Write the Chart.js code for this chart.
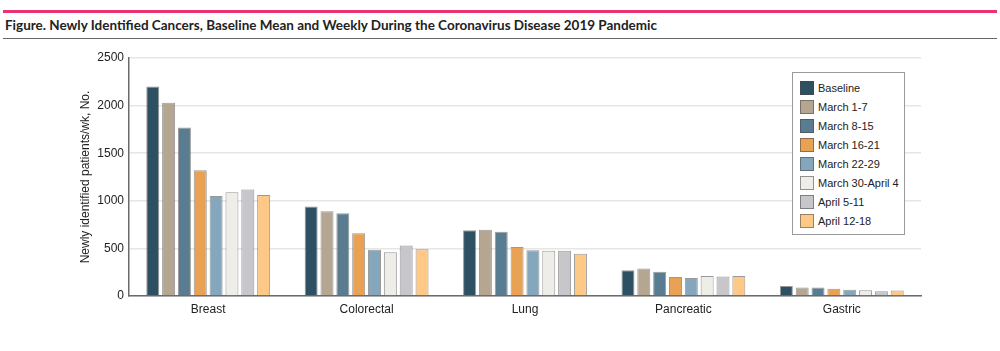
<!DOCTYPE html>
<html>
<head>
<meta charset="utf-8">
<script src="https://cdn.jsdelivr.net/npm/chart.js@4.4.1/dist/chart.umd.min.js"></script>
<style>
  html, body { margin: 0; padding: 0; background: #fff; }
  body { width: 1000px; height: 351px; position: relative; overflow: hidden; font-family: "Liberation Sans", sans-serif; }
  #pink { position: absolute; left: 3px; top: 10px; width: 994px; height: 3px; background: #e8336f; }
  #title { position: absolute; left: 5px; top: 16px; font-family: Lato, "Liberation Sans", sans-serif; font-size: 14px; font-weight: bold; color: #222; white-space: nowrap; transform-origin: 0 0; }
  #rule { position: absolute; left: 3px; top: 38px; width: 994px; height: 1px; background: #666; }
  #c { position: absolute; left: 0; top: 0; }
  #legend { position: absolute; left: 792px; top: 72px; width: 111px; height: 161px; border: 1px solid #9a9a9a; background: #fff; box-sizing: content-box; }
  .li { position: absolute; left: 7px; height: 14px; font-size: 11px; color: #222; line-height: 14px; white-space: nowrap; font-family: "Liberation Sans", "DejaVu Sans", sans-serif; }
  .sw { display: inline-block; width: 12px; height: 12px; border: 1px solid rgba(70,70,70,0.55); vertical-align: top; margin-right: 4px; }
</style>
</head>
<body>
<div id="pink"></div>
<div id="title">Figure. Newly Identified Cancers, Baseline Mean and Weekly During the Coronavirus Disease 2019 Pandemic</div>
<div id="rule"></div>
<canvas id="c" width="1000" height="351"></canvas>
<div id="legend"></div>
<script>
const categories = ["Breast", "Colorectal", "Lung", "Pancreatic", "Gastric"];
const seriesNames = ["Baseline", "March 1-7", "March 8-15", "March 16-21", "March 22-29", "March 30-April 4", "April 5-11", "April 12-18"];
const seriesColors = ["#2d5063", "#b4a690", "#5a7c91", "#e9a153", "#85a7bd", "#eeede8", "#c6c6cb", "#fec986"];
const baseline   = [2200, 940, 690, 270, 105];
const march1_7   = [2030, 890, 695, 290, 90];
const march8_15  = [1770, 870, 675, 255, 88];
const march16_21 = [1320, 660, 515, 200, 75];
const march22_29 = [1050, 485, 480, 190, 65];
const march30_apr4 = [1090, 460, 476, 210, 60];
const april5_11  = [1120, 530, 476, 205, 50];
const april12_18 = [1060, 490, 445, 210, 58];
const yTicks = [0, 500, 1000, 1500, 2000, 2500];

const seriesValues = [baseline, march1_7, march8_15, march16_21, march22_29, march30_apr4, april5_11, april12_18];

// fit title to the reference width
const t = document.getElementById("title");
const tw = t.getBoundingClientRect().width;
if (tw > 0) t.style.transform = "scaleX(" + (652 / tw) + ")";

const datasets = seriesNames.map((name, i) => ({
  label: name,
  data: seriesValues[i],
  backgroundColor: seriesColors[i],
  borderColor: "rgba(70,70,70,0.55)",
  borderWidth: 1,
  borderSkipped: "bottom",
  barPercentage: 0.82,
  categoryPercentage: 0.8
}));

new Chart(document.getElementById("c"), {
  type: "bar",
  data: { labels: categories, datasets },
  options: {
    responsive: false,
    animation: false,
    layout: { padding: { left: 78, right: 79, top: 58, bottom: 24 } },
    plugins: { legend: { display: false }, tooltip: { enabled: false } },
    scales: {
      x: {
        grid: { display: false, drawTicks: false },
        border: { display: true, color: "#6b6b6b", width: 1.5 },
        ticks: { color: "#222", font: { size: 12, family: "Liberation Sans" }, padding: 6 },
        afterFit: s => { s.height = 31; }
      },
      y: {
        min: 0, max: 2500,
        afterBuildTicks: s => { s.ticks = yTicks.map(v => ({ value: v })); },
        grid: { color: "#e6e6e6", lineWidth: 1.5, drawTicks: false },
        border: { display: true, color: "#6b6b6b", width: 1.5 },
        ticks: { color: "#222", font: { size: 12, family: "Liberation Sans" }, padding: 5, callback: v => String(v) },
        title: { display: true, text: "Newly identified patients/wk, No.", color: "#222", font: { size: 12, family: "Liberation Sans" }, padding: { top: 0, bottom: 4 } },
        afterFit: s => { s.width = 51; }
      }
    }
  }
});

const leg = document.getElementById("legend");
seriesNames.forEach((name, i) => {
  const d = document.createElement("div");
  d.className = "li";
  d.style.top = (8 + i * 19) + "px";
  d.innerHTML = '<span class="sw" style="background:' + seriesColors[i] + '"></span>' + name;
  leg.appendChild(d);
});
</script>
</body>
</html>
